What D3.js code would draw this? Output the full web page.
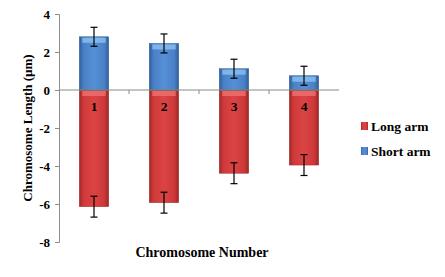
<!DOCTYPE html>
<html>
<head>
<meta charset="utf-8">
<script src="https://cdn.jsdelivr.net/npm/d3@7"></script>
<style>
  body { margin: 0; background: #fff; }
  text { font-family: "Liberation Serif", "DejaVu Serif", serif; font-weight: bold; }
</style>
</head>
<body>
<div id="chart"></div>
<script>
// chart values
const chromosomes = ["1", "2", "3", "4"];
const shortArm = [2.8, 2.45, 1.12, 0.75];
const shortErr = [0.5, 0.5, 0.5, 0.5];
const longArm = [-6.14, -5.93, -4.38, -3.95];
const longErr = [0.55, 0.55, 0.55, 0.55];
const yTicks = [4, 2, 0, -2, -4, -6, -8];

const width = 445, height = 277;
const svg = d3.select("#chart").append("svg")
  .attr("width", width).attr("height", height);

const x = d3.scaleBand().domain(chromosomes).range([59, 339]).paddingInner(0.58).paddingOuter(0.29);
const y = d3.scaleLinear().domain([-8, 4]).range([242, 14]);

// gradients for the bars
const defs = svg.append("defs");
function grad(id, stops) {
  const g = defs.append("linearGradient").attr("id", id).attr("x1", 0).attr("x2", 1).attr("y1", 0).attr("y2", 0);
  stops.forEach(([o, c]) => g.append("stop").attr("offset", o).attr("stop-color", c));
}
grad("blueG", [[0, "#2f5f9e"], [0.15, "#4a80c6"], [0.5, "#5590d6"], [0.85, "#4a80c6"], [1, "#2f5f9e"]]);
grad("redG", [[0, "#a52828"], [0.15, "#d03a3a"], [0.5, "#dc4444"], [0.85, "#cc3838"], [1, "#a02626"]]);

// y axis
const yAxis = svg.append("g")
  .attr("transform", "translate(59,0)")
  .call(d3.axisLeft(y).tickValues(yTicks).tickSize(4).tickFormat(d3.format("d")));
yAxis.select(".domain").attr("stroke", "#8c8c8c");
yAxis.selectAll(".tick line").attr("stroke", "#8c8c8c");
yAxis.selectAll(".tick text").attr("font-size", 13).attr("fill", "#000").attr("x", -9)
  .text(d => d < 0 ? "-" + Math.abs(d) : d);

// long arm bars
svg.selectAll(".long").data(chromosomes).enter().append("rect")
  .attr("x", d => x(d)).attr("width", x.bandwidth())
  .attr("y", y(0)).attr("height", (d, i) => y(longArm[i]) - y(0))
  .attr("fill", "url(#redG)").attr("stroke", "#9a2a2a").attr("stroke-width", 0.5);
svg.selectAll(".longcap").data(chromosomes).enter().append("rect")
  .attr("x", d => x(d) + 3).attr("width", x.bandwidth() - 6)
  .attr("y", y(0) + 1).attr("height", 5)
  .attr("fill", "#f07070").attr("opacity", 0.8);

// short arm bars
svg.selectAll(".short").data(chromosomes).enter().append("rect")
  .attr("x", d => x(d)).attr("width", x.bandwidth())
  .attr("y", (d, i) => y(shortArm[i])).attr("height", (d, i) => y(0) - y(shortArm[i]))
  .attr("fill", "url(#blueG)").attr("stroke", "#2f5a90").attr("stroke-width", 0.5);
svg.selectAll(".shortcap").data(chromosomes).enter().append("rect")
  .attr("x", d => x(d) + 3).attr("width", x.bandwidth() - 6)
  .attr("y", (d, i) => y(shortArm[i]) + 1).attr("height", 5)
  .attr("fill", "#8cc0f0").attr("opacity", 0.8);

// zero line with category ticks
svg.append("line").attr("x1", 59).attr("x2", 339).attr("y1", y(0)).attr("y2", y(0))
  .attr("stroke", "#7f8f7f").attr("stroke-width", 1);
const step = x.step();
chromosomes.forEach((d, i) => {
  const tx = x(d) + x.bandwidth() / 2 + step / 2;
  if (i < chromosomes.length - 1)
    svg.append("line").attr("x1", tx).attr("x2", tx).attr("y1", y(0)).attr("y2", y(0) + 4)
      .attr("stroke", "#7f8f7f");
});

// error bars
function errBars(vals, errs) {
  chromosomes.forEach((d, i) => {
    const cx = x(d) + x.bandwidth() / 2;
    const y1 = y(vals[i] + errs[i]), y2 = y(vals[i] - errs[i]);
    const g = svg.append("g").attr("stroke", "#000").attr("stroke-width", 1.2);
    g.append("line").attr("x1", cx).attr("x2", cx).attr("y1", y1).attr("y2", y2);
    g.append("line").attr("x1", cx - 3.5).attr("x2", cx + 3.5).attr("y1", y1).attr("y2", y1);
    g.append("line").attr("x1", cx - 3.5).attr("x2", cx + 3.5).attr("y1", y2).attr("y2", y2);
  });
}
errBars(shortArm, shortErr);
errBars(longArm, longErr);

// chromosome labels inside bars
svg.selectAll(".lab").data(chromosomes).enter().append("text")
  .attr("x", d => x(d) + x.bandwidth() / 2).attr("y", y(0) + 21)
  .attr("text-anchor", "middle").attr("font-size", 13.5).text(d => d);

// axis titles
svg.append("text").attr("transform", "translate(32,128) rotate(-90)")
  .attr("text-anchor", "middle").attr("font-size", 13).text("Chromosome Length (µm)");
svg.append("text").attr("x", 202).attr("y", 257)
  .attr("text-anchor", "middle").attr("font-size", 14).text("Chromosome Number");

// legend
const legend = [["Long arm", "url(#redG)"], ["Short arm", "url(#blueG)"]];
legend.forEach(([name, fill], i) => {
  const ly = 126 + i * 25;
  svg.append("rect").attr("x", 361).attr("y", ly - 4).attr("width", 7).attr("height", 8).attr("fill", fill);
  svg.append("text").attr("x", 371).attr("y", ly + 4.5).attr("font-size", 13.5).text(name);
});
</script>
</body>
</html>
